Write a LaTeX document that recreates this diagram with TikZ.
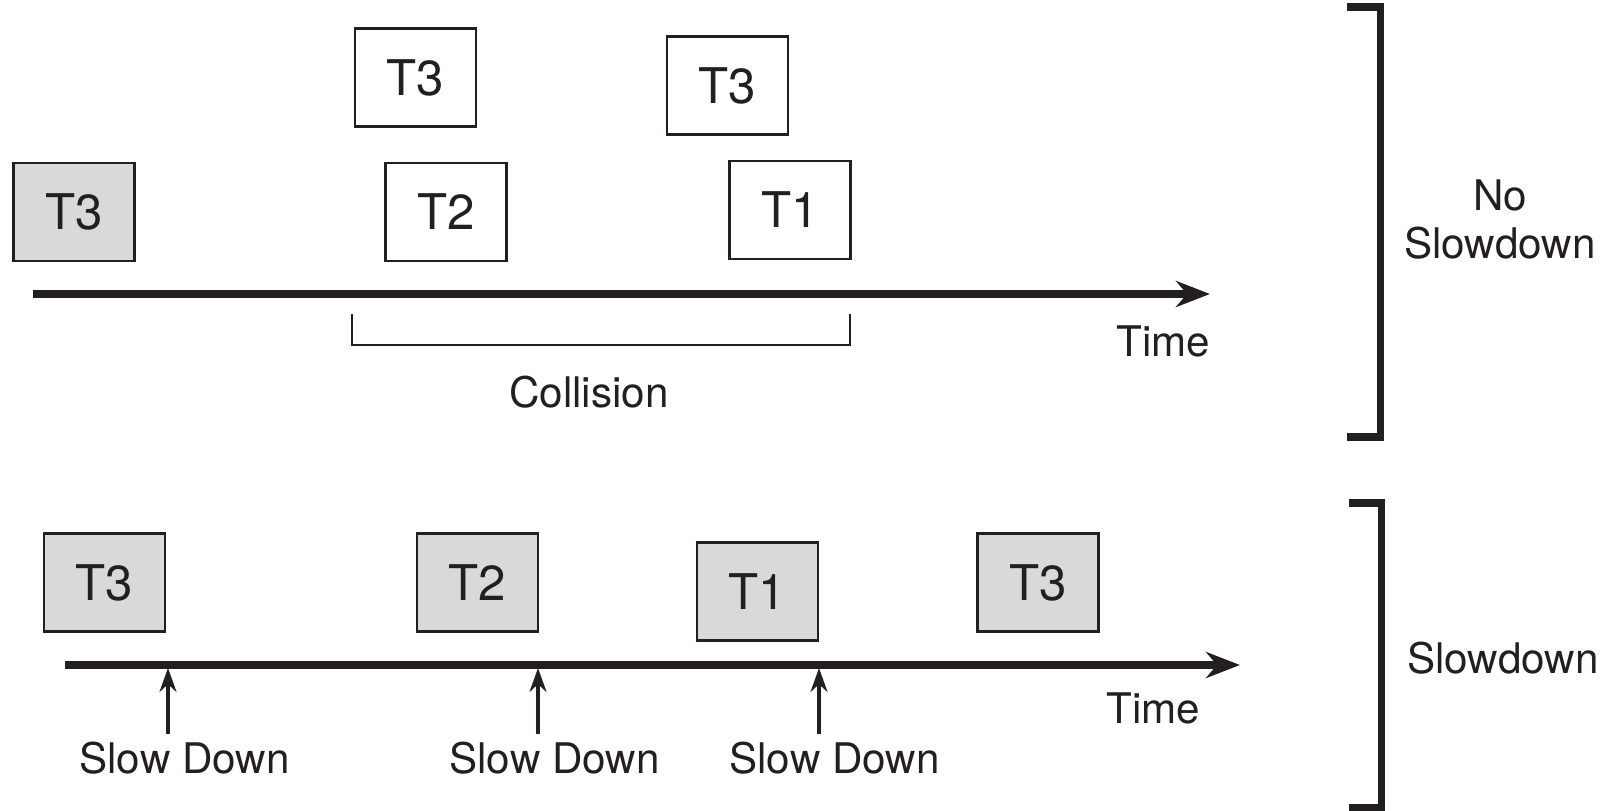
\documentclass[tikz,border=0pt]{standalone}
\usepackage{fontspec}
\setmainfont{TeX Gyre Heros}
\usepackage{xcolor}
\usetikzlibrary{
		positioning,
		arrows.meta
	}
\definecolor{ink}{RGB}{35,31,32}
\definecolor{busy}{RGB}{216,217,219}
\tikzset{
		>=Stealth
	}
\tikzset{task/.style={draw=ink, line width=0.6pt, minimum width=12.1mm, minimum height=9.8mm, inner sep=0pt, text=ink, font=\fontsize{14}{16}\selectfont}}
\tikzset{slowed/.style={task, fill=busy}}
\tikzset{lbl/.style={inner sep=0pt, outer sep=2pt, text=ink, font=\fontsize{12}{14}\selectfont}}
\tikzset{timeline/.style={draw=ink, line width=2pt, -{Stealth[length=3.4mm, width=2.6mm]}}}
\tikzset{brace/.style={draw=ink, line width=2pt, line join=miter}}

\begin{document}
\begin{tikzpicture}[x=0.1mm, y=-0.1mm] % (one unit = one tenth of a mm, y running down)
		\useasboundingbox (0,0) rectangle (1615,811);

		% without slowdown
		\coordinate (top0) at (33,294);
		\coordinate (top1) at (1210,294);
		\draw[timeline] (top0) -- (top1);
		\node[slowed] (n3a) at (74,212) {T3};
		\foreach \n/\x/\y/\t in {n3b/415.5/77.5/T3, n2/446/212/T2, n3c/727.5/85.5/T3, n1/790/210/T1} {
			\node[task] (\n) at (\x,\y) {\t};
		}
		\node[lbl, anchor=base] (time1) at (1163.5,357) {Time};
		\draw[ink, line width=0.8pt] (352,314) |- (850,345) -- (850,314);
		\node[lbl, anchor=base] (coll) at (589,408) {Collision};
		\draw[brace] (1347,7) -| (1380,437) -- (1347,437);
		\node[lbl, anchor=base] (no) at (1500,211) {No};
		\node[lbl, anchor=base] (nslow) at (1500,259) {Slowdown};

		% with slowdown
		\coordinate (bot0) at (65,665);
		\coordinate (bot1) at (1240,665);
		\draw[timeline] (bot0) -- (bot1);
		\foreach \n/\x/\y/\t in {s3a/104.5/582.5/T3, s2/477.5/582.5/T2, s1/757.5/591.5/T1, s3b/1038/582.5/T3} {
			\node[slowed] (\n) at (\x,\y) {\t};
		}
		\node[lbl, anchor=base] (time2) at (1153.5,723) {Time};
		\foreach \i/\x/\l in {1/168/184.5, 2/538/554.5, 3/819/834.5} {
			\coordinate (hit\i) at (\x,668);
			\node[lbl, anchor=base] (slow\i) at (\l,773) {Slow Down};
			\draw[ink, line width=0.9pt, -{Stealth[length=2.4mm, width=1.7mm]}] (slow\i.north -| hit\i) -- (hit\i);
		}
		\draw[brace] (1349,503) -| (1381,808) -- (1349,808);
		\node[lbl, anchor=base] (yslow) at (1503,673) {Slowdown};
	\end{tikzpicture}
\end{document}
